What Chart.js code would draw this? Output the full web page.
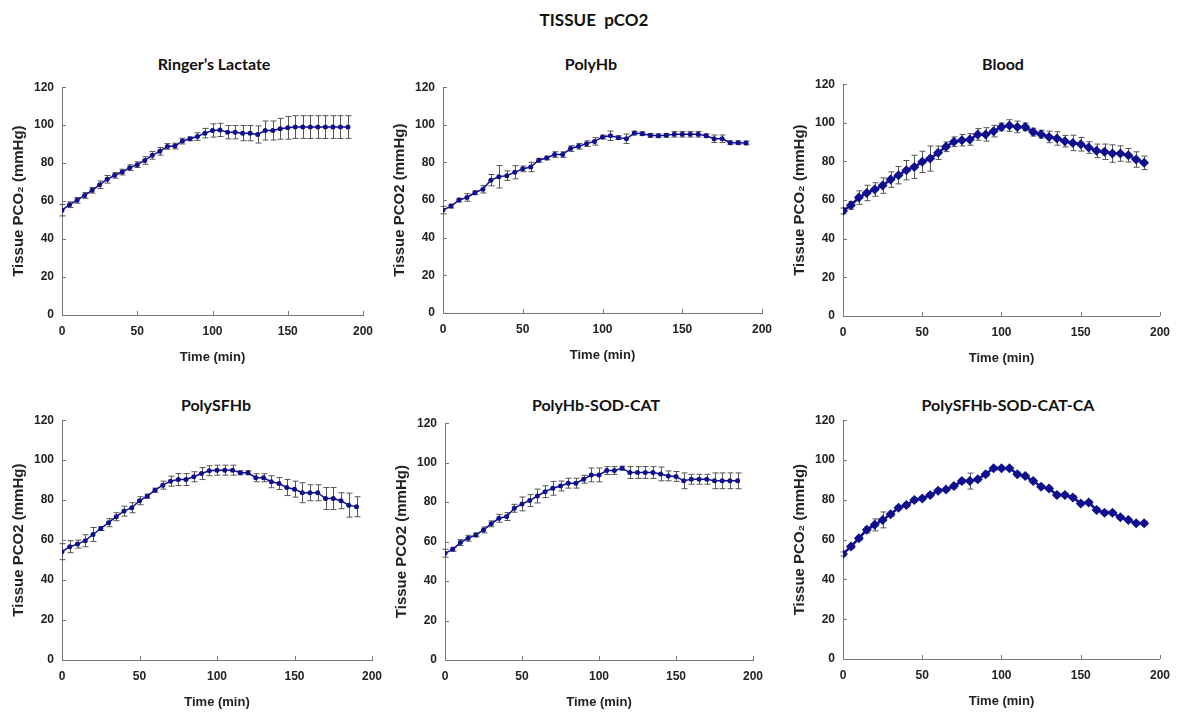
<!DOCTYPE html>
<html>
<head>
<meta charset="utf-8">
<title>Tissue pCO2</title>
<script src="https://cdn.jsdelivr.net/npm/chart.js@4.4.1/dist/chart.umd.min.js"></script>
<style>
  body { margin: 0; width: 1179px; height: 713px; background: #fff; position: relative; overflow: hidden; }
  .title { position: absolute; height: 22px; line-height: 22px; font-family: Lato, "Open Sans", sans-serif; font-weight: bold; color: #111; white-space: nowrap; transform: translateX(-50%); }
  canvas { position: absolute; }
</style>
</head>
<body>
<div class="title" style="left:594px; top:9px; font-size:17px;">TISSUE&nbsp; pCO2</div>
<div class="title" style="left:214px; top:53px; font-size:16px;">Ringer’s Lactate</div>
<div class="title" style="left:591px; top:53px; font-size:16px;">PolyHb</div>
<div class="title" style="left:1003px; top:53px; font-size:16px;">Blood</div>
<div class="title" style="left:216px; top:394px; font-size:16px;">PolySFHb</div>
<div class="title" style="left:596px; top:394px; font-size:16px;">PolyHb-SOD-CAT</div>
<div class="title" style="left:1008px; top:394px; font-size:16px;">PolySFHb-SOD-CAT-CA</div>

<script>
// time points (min)
const times = [0, 5, 10, 15, 20, 25, 30, 35, 40, 45, 50, 55, 60, 65, 70, 75, 80, 85, 90, 95,
  100, 105, 110, 115, 120, 125, 130, 135, 140, 145, 150, 155, 160, 165, 170, 175, 180, 185, 190];

const xTicks = [0, 50, 100, 150, 200];
const yTicks = [0, 20, 40, 60, 80, 100, 120];

// Ringer's Lactate
const ringerMean = [55.2, 58.1, 60.4, 63, 65.7, 68.6, 71.5, 73.6, 75.3, 77.6, 79.2, 81.4, 84.1, 86.2, 88.8, 89, 91.6, 92.8, 94, 95.8,
  97.2, 97.5, 96.3, 96.3, 95.8, 95.8, 95.1, 97.2, 97.2, 98.1, 98.6, 99, 99, 99, 99, 99, 99, 99, 99];
const ringerErr = [3, 1.5, 1.5, 1.5, 1.5, 2, 2, 1.5, 1.5, 1.5, 1.5, 2, 2, 2, 1.5, 1.5, 1.5, 1, 2, 2.5,
  3.5, 3.5, 3.5, 3.5, 4, 4, 4.5, 5, 5, 5.5, 6, 6, 6, 6, 6, 6, 6, 6, 6];

// PolyHb
const polyHbMean = [54.7, 56.8, 60, 61.4, 63.9, 65.8, 70.6, 72.4, 73, 74.8, 76.6, 77.6, 81.2, 82.4, 84.2, 84.2, 87.4, 88.6, 90, 91.2,
  93.5, 94.2, 93.2, 92.6, 95.6, 95.3, 94.4, 94.2, 94.4, 95, 95, 95, 95, 94.2, 92.6, 92.6, 90.5, 90.5, 90.4];
const polyHbErr = [2, 1, 1, 2, 1, 2, 3, 6, 2.5, 3.5, 1.5, 2.5, 1, 1, 1.5, 1.5, 1.5, 1.5, 1.5, 2,
  1, 2.5, 1, 2.5, 1, 1, 1, 1, 1, 1.5, 1.5, 1.5, 1.5, 1, 2, 2, 1, 1, 1];

// Blood
const bloodMean = [54.4, 57.3, 61.3, 63.7, 65.5, 67.5, 70.6, 72.9, 75.5, 77.2, 79.8, 81.5, 84.5, 87.6, 90.2, 91, 91.4, 94, 94, 95.7,
  97.9, 98.6, 97.9, 97.9, 95.2, 94.1, 92.7, 91.9, 90.5, 89.6, 88.9, 87.2, 85.5, 85, 84.1, 84.1, 83.2, 81, 79.3];
const bloodErr = [1.5, 2, 3.5, 4, 3.5, 4, 4, 4.5, 5, 6, 5.5, 6.5, 3.5, 2.5, 2.5, 3, 3, 3, 3.5, 3,
  2, 3, 3, 2, 2, 2, 3, 3.5, 3, 4, 3.5, 3, 3.5, 4, 4.5, 4, 3.5, 4, 3.5];

// PolySFHb
const polySFHbMean = [54.2, 56.7, 58, 59.7, 62.8, 65.8, 68.7, 71.7, 74.5, 76.2, 79.7, 82, 85, 87.5, 89.5, 90.3, 90.3, 91.7, 93.3, 94.7,
  95, 95, 95, 93.7, 93.7, 91.2, 91.2, 89.2, 88.3, 86.3, 85.5, 83.7, 83.7, 83.7, 80.8, 80.8, 79.7, 77.5, 76.7];
const polySFHbErr = [4, 3, 2, 3, 3.5, 1, 2, 2, 2.5, 2.5, 2, 1, 1, 2, 2.5, 3, 3, 2.5, 3, 2.5,
  2.5, 2.5, 2.5, 1, 1, 2, 2, 3, 3, 4, 4, 5, 4, 4, 5.5, 5.5, 4, 6, 5];

// PolyHb-SOD-CAT
const sodCatMean = [54.1, 56.1, 59.5, 61.7, 63.4, 65.9, 69, 71.8, 72.7, 76.9, 79.1, 80.8, 83.1, 85.3, 87, 88.2, 89.6, 89.6, 91.6, 93.8,
  93.8, 96, 96, 97.2, 95, 95, 95, 95, 94.3, 93.3, 93, 90.8, 91.6, 91.6, 91.6, 90.8, 90.8, 90.8, 90.8];
const sodCatErr = [2, 1, 1.5, 1.5, 1, 1.5, 1.5, 2, 2, 2, 3.5, 3, 3.5, 3, 3.5, 2.5, 2.5, 2.5, 2, 3.5,
  3.5, 2, 2, 1, 3, 3, 3, 3, 3.5, 2.5, 2.5, 4, 2.5, 2.5, 2.5, 4, 4, 4, 4];

// PolySFHb-SOD-CAT-CA
const sodCatCaMean = [52.8, 56.5, 60.7, 64.9, 67.4, 69.9, 72.7, 76, 77.4, 79.9, 80.7, 82.4, 84.6, 85.2, 86.9, 89.4, 89.4, 90.3, 92.9, 95.8,
  95.8, 95.8, 92.9, 91.9, 89.4, 86.6, 85.7, 82.4, 82.4, 81.2, 78.2, 78.6, 74.9, 73.5, 73.5, 71.2, 69.9, 68.2, 68.2];
const sodCatCaErr = [1, 1, 1, 1.5, 3, 4, 1, 1, 1, 1, 1, 1, 1, 1, 1, 1, 4, 1, 1, 1,
  1, 1, 1, 1, 1, 1, 1, 1, 1, 1, 1, 1, 1, 1, 1, 1, 1, 1, 1];

const BLUE = '#10108f';

// error bars + Excel-style inner tick marks
const errorBarsPlugin = {
  id: 'errorBars',
  beforeDatasetsDraw(chart, args, opts) {
    const { ctx } = chart;
    const x = chart.scales.x, y = chart.scales.y;
    const pts = chart.data.datasets[0].data;
    ctx.save();
    ctx.strokeStyle = '#555';
    ctx.lineWidth = 1;
    ctx.beginPath();
    pts.forEach((p, i) => {
      const e = opts.errors[i];
      const px = Math.round(x.getPixelForValue(p.x)) + 0.5;
      const top = y.getPixelForValue(p.y + e);
      const bot = y.getPixelForValue(p.y - e);
      ctx.moveTo(px, top); ctx.lineTo(px, bot);
      ctx.moveTo(px - 3, top); ctx.lineTo(px + 3, top);
      ctx.moveTo(px - 3, bot); ctx.lineTo(px + 3, bot);
    });
    ctx.stroke();
    ctx.restore();
  },
  afterDraw(chart) {
    const { ctx } = chart;
    const x = chart.scales.x, y = chart.scales.y;
    ctx.save();
    ctx.strokeStyle = '#777';
    ctx.lineWidth = 1;
    ctx.beginPath();
    yTicks.forEach(v => {
      const py = Math.round(y.getPixelForValue(v)) + 0.5;
      ctx.moveTo(x.left, py); ctx.lineTo(x.left + 4, py);
    });
    xTicks.forEach(v => {
      const px = Math.round(x.getPixelForValue(v)) + 0.5;
      ctx.moveTo(px, y.bottom); ctx.lineTo(px, y.bottom - 4);
    });
    ctx.stroke();
    ctx.restore();
  }
};

// panel boxes = plot area in page px
const panels = [
  { mean: ringerMean, err: ringerErr, yTitle: 'Tissue PCO₂ (mmHg)', left: 62, top: 87, right: 363, bottom: 315, padR: 20, big: false },
  { mean: polyHbMean, err: polyHbErr, yTitle: 'Tissue PCO2 (mmHg)', left: 443, top: 87, right: 762, bottom: 313, padR: 20, big: false },
  { mean: bloodMean, err: bloodErr, yTitle: 'Tissue PCO₂ (mmHg)', left: 843, top: 84, right: 1168, bottom: 316, padR: 11, big: true },
  { mean: polySFHbMean, err: polySFHbErr, yTitle: 'Tissue PCO2 (mmHg)', left: 62, top: 420, right: 372, bottom: 660, padR: 20, big: false },
  { mean: sodCatMean, err: sodCatErr, yTitle: 'Tissue PCO2 (mmHg)', left: 445, top: 423, right: 753, bottom: 660, padR: 20, big: false },
  { mean: sodCatCaMean, err: sodCatCaErr, yTitle: 'Tissue PCO₂ (mmHg)', left: 843, top: 420, right: 1165, bottom: 659, padR: 14, big: true }
];

const AXW = 52, AXH = 50, PADT = 15;
const tickFont = { family: '"Liberation Sans", Arial, sans-serif', size: 12, weight: 'bold' };
const titleFont = { family: '"Liberation Sans", Arial, sans-serif', size: 13, weight: 'bold' };

function makePanel(p) {
  const canvas = document.createElement('canvas');
  const w = p.right - p.left + AXW + p.padR;
  const h = p.bottom - p.top + PADT + AXH;
  canvas.width = w;
  canvas.height = h;
  canvas.style.left = (p.left - AXW) + 'px';
  canvas.style.top = (p.top - PADT) + 'px';
  document.body.appendChild(canvas);

  new Chart(canvas, {
    type: 'line',
    data: {
      datasets: [{
        data: times.map((t, i) => ({ x: t, y: p.mean[i] })),
        borderColor: BLUE,
        backgroundColor: BLUE,
        borderWidth: p.big ? 2.5 : 1.5,
        pointStyle: p.big ? 'rectRot' : 'circle',
        pointRadius: p.big ? 5 : 2.5,
        pointBorderWidth: 0,
        tension: 0
      }]
    },
    options: {
      responsive: false,
      animation: false,
      layout: { padding: { top: PADT, right: p.padR, left: 0, bottom: 0 } },
      plugins: {
        legend: { display: false },
        tooltip: { enabled: false },
        errorBars: { errors: p.err }
      },
      scales: {
        x: {
          type: 'linear',
          min: xTicks[0],
          max: xTicks[xTicks.length - 1],
          ticks: { stepSize: xTicks[1] - xTicks[0], padding: 9, color: '#222', font: tickFont, maxRotation: 0 },
          grid: { display: false, drawTicks: false },
          border: { color: '#777', width: 1 },
          title: { display: true, text: 'Time (min)', color: '#222', font: titleFont, padding: 0 },
          afterFit(s) { s.height = AXH; }
        },
        y: {
          min: yTicks[0],
          max: yTicks[yTicks.length - 1],
          ticks: { stepSize: yTicks[1] - yTicks[0], padding: 8, color: '#222', font: tickFont },
          grid: { display: false, drawTicks: false },
          border: { color: '#777', width: 1 },
          title: { display: true, text: p.yTitle, color: '#222', font: { ...titleFont, size: 15 }, padding: 0 },
          afterFit(s) { s.width = AXW; }
        }
      }
    },
    plugins: [errorBarsPlugin]
  });
}

panels.forEach(makePanel);
</script>
</body>
</html>
